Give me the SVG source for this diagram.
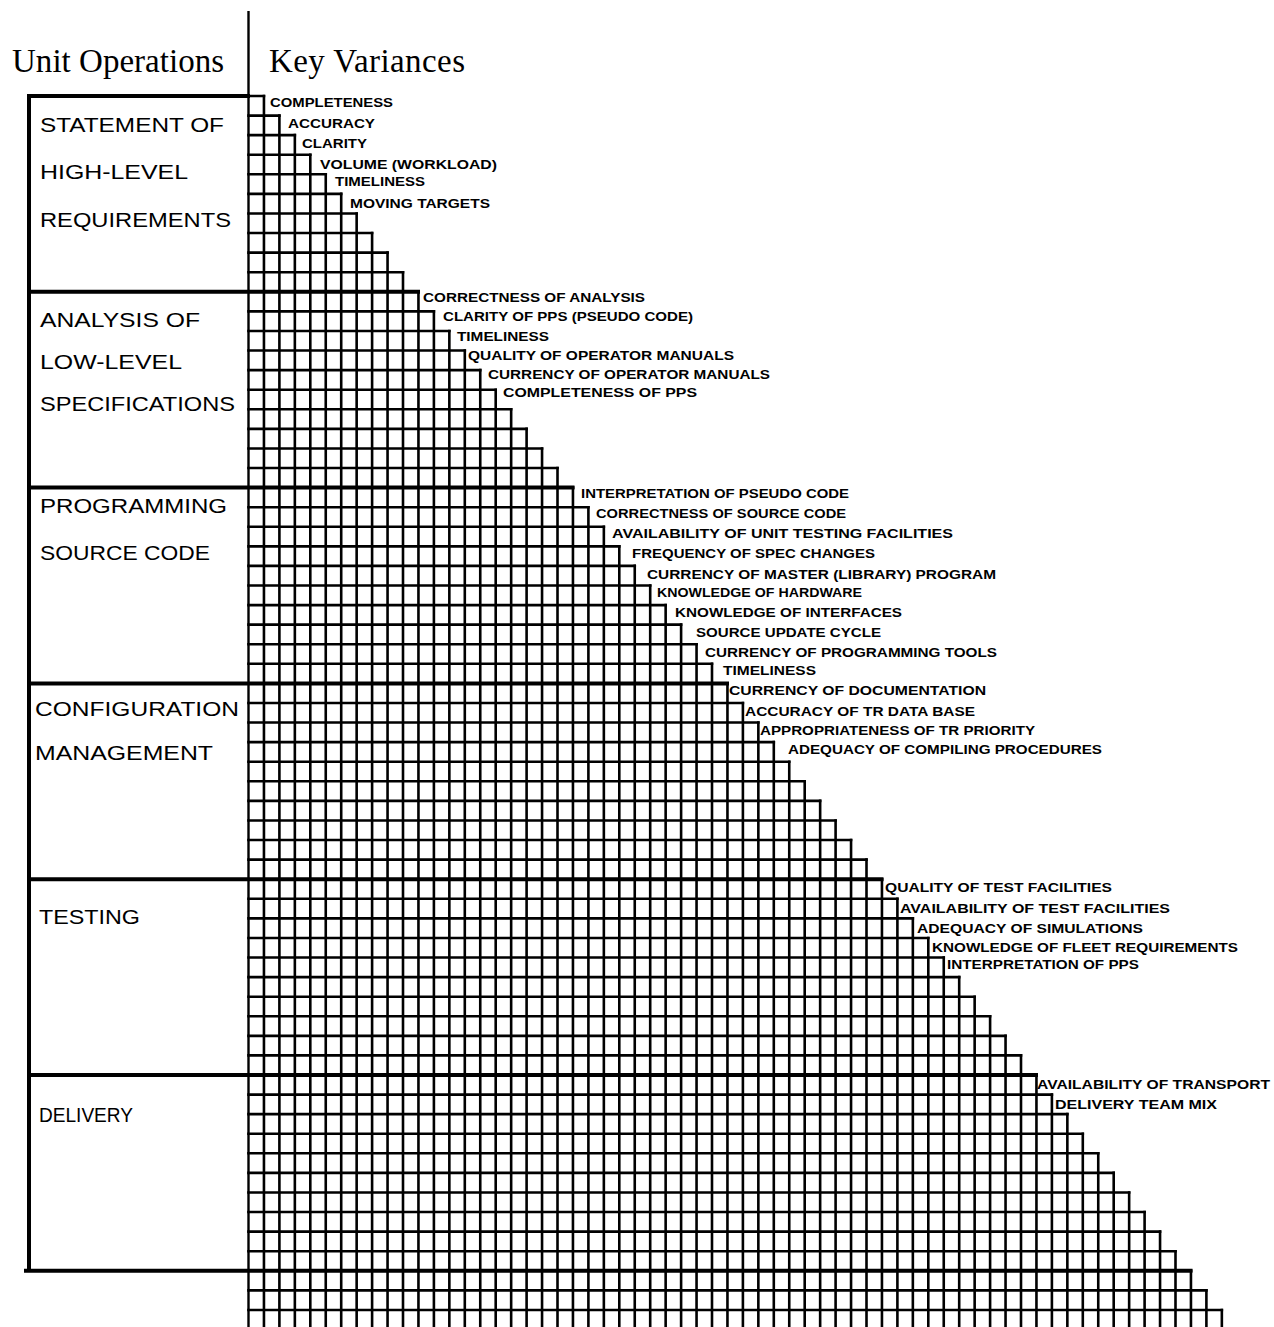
<svg xmlns="http://www.w3.org/2000/svg" width="1274" height="1327" viewBox="0 0 1274 1327">
  <style>
    .head { font-family: "Liberation Serif", "Times New Roman", serif; font-size: 33px; fill: #000; }
    .op { font-family: "Liberation Sans", Arial, sans-serif; font-size: 21px; fill: #000; }
    .kv { font-family: "Liberation Sans", Arial, sans-serif; font-size: 13.5px; font-weight: bold; fill: #000; }
    .thin { fill: none; stroke: #000; stroke-width: 2.6; stroke-linecap: square; }
    .rule { fill: none; stroke: #000; stroke-width: 2.4; }
    .thick { fill: none; stroke: #000; stroke-width: 4; }
  </style>
  <rect width="1274" height="1327" fill="#fff"/>

  <!-- column headings -->
  <g id="headings">
    <text class="head" x="12" y="72" textLength="212">Unit Operations</text>
    <text class="head" x="269" y="72" textLength="196">Key Variances</text>
  </g>

  <!-- staircase matrix: column x = 248.5 + 15.45k, row y = 96 + 19.58i -->
  <g id="connectors">
    <!-- main divider -->
    <path class="rule" d="M248.5 11 V1327"/>
    <!-- row tops: row i spans i+1 cells -->
    <path class="thin" d="M248.5 96 H263.95 M248.5 115.58 H279.4 M248.5 135.16 H294.85 M248.5 154.74 H310.3 M248.5 174.32 H325.75 M248.5 193.9 H341.2 M248.5 213.48 H356.65 M248.5 233.06 H372.1 M248.5 252.64 H387.55 M248.5 272.22 H403 M248.5 291.8 H418.45 M248.5 311.38 H433.9 M248.5 330.96 H449.35 M248.5 350.54 H464.8 M248.5 370.12 H480.25 M248.5 389.7 H495.7 M248.5 409.28 H511.15 M248.5 428.86 H526.6 M248.5 448.44 H542.05 M248.5 468.02 H557.5 M248.5 487.6 H572.95 M248.5 507.18 H588.4 M248.5 526.76 H603.85 M248.5 546.34 H619.3 M248.5 565.92 H634.75 M248.5 585.5 H650.2 M248.5 605.08 H665.65 M248.5 624.66 H681.1 M248.5 644.24 H696.55 M248.5 663.82 H712 M248.5 683.4 H727.45 M248.5 702.98 H742.9 M248.5 722.56 H758.35 M248.5 742.14 H773.8 M248.5 761.72 H789.25 M248.5 781.3 H804.7 M248.5 800.88 H820.15 M248.5 820.46 H835.6 M248.5 840.04 H851.05 M248.5 859.62 H866.5 M248.5 879.2 H881.95 M248.5 898.78 H897.4 M248.5 918.36 H912.85 M248.5 937.94 H928.3 M248.5 957.52 H943.75 M248.5 977.1 H959.2 M248.5 996.68 H974.65 M248.5 1016.26 H990.1 M248.5 1035.84 H1005.55 M248.5 1055.42 H1021 M248.5 1075 H1036.45 M248.5 1094.58 H1051.9 M248.5 1114.16 H1067.35 M248.5 1133.74 H1082.8 M248.5 1153.32 H1098.25 M248.5 1172.9 H1113.7 M248.5 1192.48 H1129.15 M248.5 1212.06 H1144.6 M248.5 1231.64 H1160.05 M248.5 1251.22 H1175.5 M248.5 1270.8 H1190.95 M248.5 1290.38 H1206.4 M248.5 1309.96 H1221.85"/>
    <!-- column boundaries: column k starts at row k-1 -->
    <path class="thin" d="M263.95 96 V1327 M279.4 115.58 V1327 M294.85 135.16 V1327 M310.3 154.74 V1327 M325.75 174.32 V1327 M341.2 193.9 V1327 M356.65 213.48 V1327 M372.1 233.06 V1327 M387.55 252.64 V1327 M403 272.22 V1327 M418.45 291.8 V1327 M433.9 311.38 V1327 M449.35 330.96 V1327 M464.8 350.54 V1327 M480.25 370.12 V1327 M495.7 389.7 V1327 M511.15 409.28 V1327 M526.6 428.86 V1327 M542.05 448.44 V1327 M557.5 468.02 V1327 M572.95 487.6 V1327 M588.4 507.18 V1327 M603.85 526.76 V1327 M619.3 546.34 V1327 M634.75 565.92 V1327 M650.2 585.5 V1327 M665.65 605.08 V1327 M681.1 624.66 V1327 M696.55 644.24 V1327 M712 663.82 V1327 M727.45 683.4 V1327 M742.9 702.98 V1327 M758.35 722.56 V1327 M773.8 742.14 V1327 M789.25 761.72 V1327 M804.7 781.3 V1327 M820.15 800.88 V1327 M835.6 820.46 V1327 M851.05 840.04 V1327 M866.5 859.62 V1327 M881.95 879.2 V1327 M897.4 898.78 V1327 M912.85 918.36 V1327 M928.3 937.94 V1327 M943.75 957.52 V1327 M959.2 977.1 V1327 M974.65 996.68 V1327 M990.1 1016.26 V1327 M1005.55 1035.84 V1327 M1021 1055.42 V1327 M1036.45 1075 V1327 M1051.9 1094.58 V1327 M1067.35 1114.16 V1327 M1082.8 1133.74 V1327 M1098.25 1153.32 V1327 M1113.7 1172.9 V1327 M1129.15 1192.48 V1327 M1144.6 1212.06 V1327 M1160.05 1231.64 V1327 M1175.5 1251.22 V1327 M1190.95 1270.8 V1327 M1206.4 1290.38 V1327 M1221.85 1309.96 V1327"/>
    <!-- heavy rules between unit operations -->
    <path class="thick" d="M27 96 H250 M29 96 V1272.5 M27 291.8 H420 M27 487.6 H574.5 M27 683.4 H729 M27 879.2 H883.5 M27 1075 H1038 M24 1270.8 H1192.5"/>
  </g>

  <!-- unit operations -->
  <g id="op-requirements">
    <text class="op" x="40" y="131.5" textLength="184" lengthAdjust="spacingAndGlyphs">STATEMENT OF</text>
    <text class="op" x="40" y="179" textLength="148" lengthAdjust="spacingAndGlyphs">HIGH-LEVEL</text>
    <text class="op" x="40" y="227" textLength="191" lengthAdjust="spacingAndGlyphs">REQUIREMENTS</text>
  </g>
  <g id="op-analysis">
    <text class="op" x="40" y="326.5" textLength="160" lengthAdjust="spacingAndGlyphs">ANALYSIS OF</text>
    <text class="op" x="40" y="369" textLength="142" lengthAdjust="spacingAndGlyphs">LOW-LEVEL</text>
    <text class="op" x="40" y="410.5" textLength="195" lengthAdjust="spacingAndGlyphs">SPECIFICATIONS</text>
  </g>
  <g id="op-programming">
    <text class="op" x="40" y="513" textLength="187" lengthAdjust="spacingAndGlyphs">PROGRAMMING</text>
    <text class="op" x="40" y="560" textLength="170" lengthAdjust="spacingAndGlyphs">SOURCE CODE</text>
  </g>
  <g id="op-configuration">
    <text class="op" x="35" y="716" textLength="204" lengthAdjust="spacingAndGlyphs">CONFIGURATION</text>
    <text class="op" x="35" y="760" textLength="178" lengthAdjust="spacingAndGlyphs">MANAGEMENT</text>
  </g>
  <g id="op-testing">
    <text class="op" x="39" y="924" textLength="101" lengthAdjust="spacingAndGlyphs">TESTING</text>
  </g>
  <g id="op-delivery">
    <text class="op" x="39" y="1122" textLength="94" lengthAdjust="spacingAndGlyphs">DELIVERY</text>
  </g>

  <!-- key variances, one per row of the staircase -->
  <g id="variances" lengthAdjust="spacingAndGlyphs">
    <text class="kv" x="270" y="106.5" textLength="123" lengthAdjust="spacingAndGlyphs">COMPLETENESS</text>
    <text class="kv" x="288" y="128" textLength="87" lengthAdjust="spacingAndGlyphs">ACCURACY</text>
    <text class="kv" x="302" y="148" textLength="65" lengthAdjust="spacingAndGlyphs">CLARITY</text>
    <text class="kv" x="320" y="169" textLength="177" lengthAdjust="spacingAndGlyphs">VOLUME (WORKLOAD)</text>
    <text class="kv" x="335" y="186" textLength="90" lengthAdjust="spacingAndGlyphs">TIMELINESS</text>
    <text class="kv" x="350" y="208" textLength="140" lengthAdjust="spacingAndGlyphs">MOVING TARGETS</text>

    <text class="kv" x="423" y="301.5" textLength="222" lengthAdjust="spacingAndGlyphs">CORRECTNESS OF ANALYSIS</text>
    <text class="kv" x="443" y="321" textLength="250" lengthAdjust="spacingAndGlyphs">CLARITY OF PPS (PSEUDO CODE)</text>
    <text class="kv" x="457" y="341" textLength="92" lengthAdjust="spacingAndGlyphs">TIMELINESS</text>
    <text class="kv" x="468" y="359.5" textLength="266" lengthAdjust="spacingAndGlyphs">QUALITY OF OPERATOR MANUALS</text>
    <text class="kv" x="488" y="379" textLength="282" lengthAdjust="spacingAndGlyphs">CURRENCY OF OPERATOR MANUALS</text>
    <text class="kv" x="503" y="397" textLength="194" lengthAdjust="spacingAndGlyphs">COMPLETENESS OF PPS</text>

    <text class="kv" x="581" y="498" textLength="268" lengthAdjust="spacingAndGlyphs">INTERPRETATION OF PSEUDO CODE</text>
    <text class="kv" x="596" y="518" textLength="250" lengthAdjust="spacingAndGlyphs">CORRECTNESS OF SOURCE CODE</text>
    <text class="kv" x="612" y="538" textLength="341" lengthAdjust="spacingAndGlyphs">AVAILABILITY OF UNIT TESTING FACILITIES</text>
    <text class="kv" x="632" y="558" textLength="243" lengthAdjust="spacingAndGlyphs">FREQUENCY OF SPEC CHANGES</text>
    <text class="kv" x="647" y="578.5" textLength="349" lengthAdjust="spacingAndGlyphs">CURRENCY OF MASTER (LIBRARY) PROGRAM</text>
    <text class="kv" x="657" y="597" textLength="205" lengthAdjust="spacingAndGlyphs">KNOWLEDGE OF HARDWARE</text>
    <text class="kv" x="675" y="616.5" textLength="227" lengthAdjust="spacingAndGlyphs">KNOWLEDGE OF INTERFACES</text>
    <text class="kv" x="696" y="637" textLength="185" lengthAdjust="spacingAndGlyphs">SOURCE UPDATE CYCLE</text>
    <text class="kv" x="705" y="656.5" textLength="292" lengthAdjust="spacingAndGlyphs">CURRENCY OF PROGRAMMING TOOLS</text>
    <text class="kv" x="723" y="675" textLength="93" lengthAdjust="spacingAndGlyphs">TIMELINESS</text>

    <text class="kv" x="729" y="695" textLength="257" lengthAdjust="spacingAndGlyphs">CURRENCY OF DOCUMENTATION</text>
    <text class="kv" x="745" y="715.5" textLength="230" lengthAdjust="spacingAndGlyphs">ACCURACY OF TR DATA BASE</text>
    <text class="kv" x="760" y="735" textLength="275" lengthAdjust="spacingAndGlyphs">APPROPRIATENESS OF TR PRIORITY</text>
    <text class="kv" x="788" y="754" textLength="314" lengthAdjust="spacingAndGlyphs">ADEQUACY OF COMPILING PROCEDURES</text>

    <text class="kv" x="885" y="891.5" textLength="227" lengthAdjust="spacingAndGlyphs">QUALITY OF TEST FACILITIES</text>
    <text class="kv" x="900" y="912.5" textLength="270" lengthAdjust="spacingAndGlyphs">AVAILABILITY OF TEST FACILITIES</text>
    <text class="kv" x="917" y="933" textLength="226" lengthAdjust="spacingAndGlyphs">ADEQUACY OF SIMULATIONS</text>
    <text class="kv" x="932" y="951.5" textLength="306" lengthAdjust="spacingAndGlyphs">KNOWLEDGE OF FLEET REQUIREMENTS</text>
    <text class="kv" x="947" y="968.5" textLength="192" lengthAdjust="spacingAndGlyphs">INTERPRETATION OF PPS</text>

    <text class="kv" x="1037" y="1089" textLength="233" lengthAdjust="spacingAndGlyphs">AVAILABILITY OF TRANSPORT</text>
    <text class="kv" x="1055" y="1109" textLength="162" lengthAdjust="spacingAndGlyphs">DELIVERY TEAM MIX</text>
  </g>
</svg>
